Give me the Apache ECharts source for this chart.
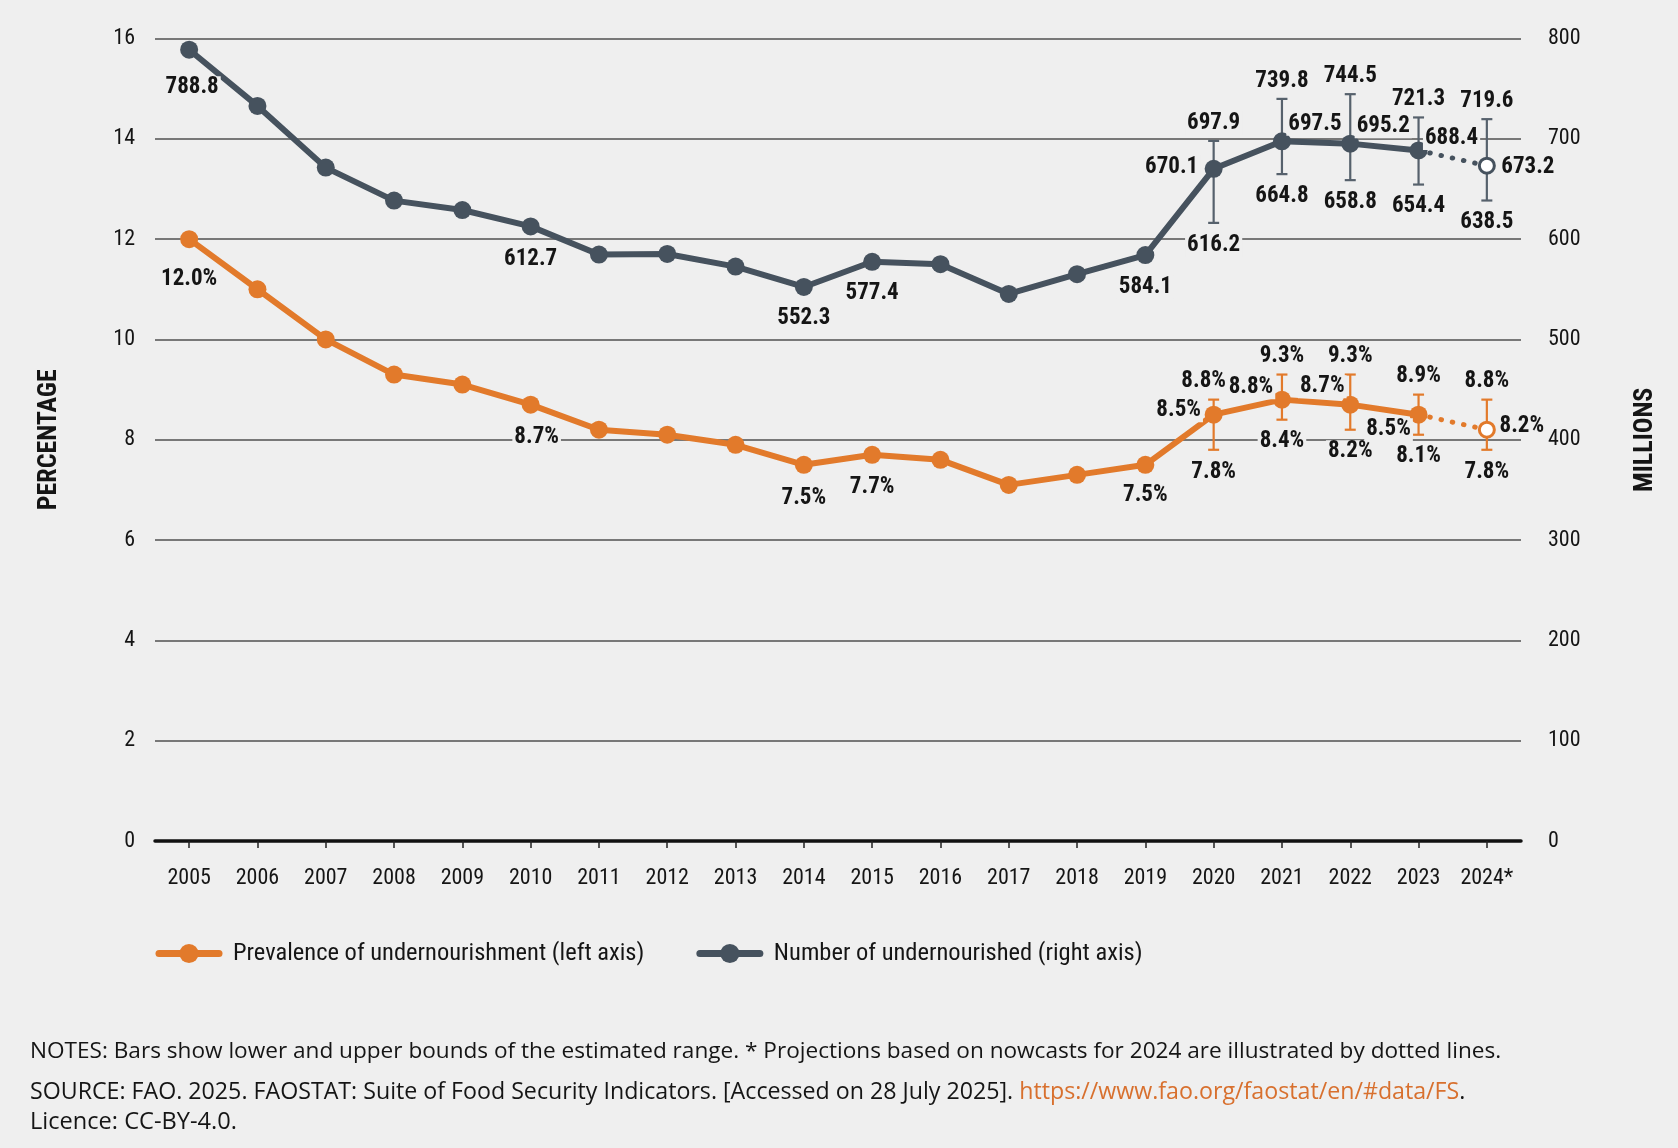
<!DOCTYPE html>
<html>
<head>
<meta charset="utf-8">
<script src="https://cdn.jsdelivr.net/npm/echarts@6/dist/echarts.min.js"></script>
<style>
html,body{margin:0;padding:0;background:#EFEFEF;}
#chart{width:1678px;height:1148px;}
</style>
</head>
<body>
<div id="chart"></div>
<script>
// ---- data ----
const years = ['2005','2006','2007','2008','2009','2010','2011','2012','2013','2014','2015','2016','2017','2018','2019','2020','2021','2022','2023','2024*'];
const prevalence = [12.0, 11.0, 10.0, 9.3, 9.1, 8.7, 8.2, 8.1, 7.9, 7.5, 7.7, 7.6, 7.1, 7.3, 7.5, 8.5, 8.8, 8.7, 8.5, 8.2];
const undernourished = [788.8, 732.8, 671.3, 638.4, 629.0, 612.7, 584.6, 585.2, 572.6, 552.3, 577.4, 575.0, 545.4, 565.0, 584.1, 670.1, 697.5, 695.2, 688.4, 673.2];
const rangeYears = ['2020','2021','2022','2023','2024*'];
const prevalenceLow = [7.8, 8.4, 8.2, 8.1, 7.8];
const prevalenceHigh = [8.8, 9.3, 9.3, 8.9, 8.8];
const numberLow = [616.2, 664.8, 658.8, 654.4, 638.5];
const numberHigh = [697.9, 739.8, 744.5, 721.3, 719.6];
const leftAxis = {min: 0, max: 16, interval: 2};
const rightAxis = {min: 0, max: 800, interval: 100};
const seriesNames = ['Prevalence of undernourishment (left axis)', 'Number of undernourished (right axis)'];
const notesText = 'NOTES: Bars show lower and upper bounds of the estimated range. * Projections based on nowcasts for 2024 are illustrated by dotted lines.';
const sourceText = 'SOURCE: FAO. 2025. FAOSTAT: Suite of Food Security Indicators. [Accessed on 28 July 2025]. ';
const sourceUrl = 'https://www.fao.org/faostat/en/#data/FS';
const licenceText = 'Licence: CC-BY-4.0.';

// ---- styles ----
const ORANGE = '#E27A2B';
const SLATE = '#46525E';
const BG = '#EFEFEF';
const TXT = '#151515';
const NARROW = '"Roboto Condensed", "Open Sans Condensed", sans-serif';
const NOTE_FAMILY = '"Open Sans", Lato, sans-serif';
const LABEL_SIZE = 23;

// label offsets (px) relative to the marker centre, keyed by category index
const prevLabelOffsets = {0:[0,40], 5:[6,33], 9:[0,33], 10:[0,32], 14:[0,30], 15:[-35,-4], 16:[-31,-12], 17:[-28,-18], 18:[-30,15], 19:[35,-3]};
const numLabelOffsets  = {0:[3,38], 5:[0,33], 9:[0,31], 10:[0,31], 14:[0,32], 15:[-42,-2], 16:[33,-17], 17:[33,-17], 18:[33,-12], 19:[41,2]};
const prevUpperDx = [-10, 0, 0, 0, 0];

function labelStyle(offset, suffix) {
  return {
    show: true, position: 'inside', offset: offset,
    formatter: p => Number(p.value).toFixed(1) + suffix,
    fontFamily: NARROW, fontWeight: 'bold', fontSize: LABEL_SIZE, color: TXT,
    backgroundColor: BG, padding: [0, 2]
  };
}

function solidData(values, offsets, suffix) {
  const last = values.length - 1;
  return values.map((v, i) => {
    if (i === last) return null;
    const item = {value: v};
    if (offsets[i]) item.label = labelStyle(offsets[i], suffix);
    return item;
  });
}
function projData(values, offsets, suffix) {
  const last = values.length - 1;
  return values.map((v, i) => {
    if (i === last) return {value: v, label: labelStyle(offsets[i], suffix)};
    if (i === last - 1) return {value: v, symbol: 'none'};
    return null;
  });
}

function errorSeries(low, high, yIdx, color, suffix, upperDx) {
  return {
    type: 'custom', yAxisIndex: yIdx, z: 1, silent: true,
    data: rangeYears.map((y, i) => [y, low[i], high[i], i]),
    renderItem: function (params, api) {
      const cat = api.value(0);
      const lo = api.coord([cat, api.value(1)]);
      const hi = api.coord([cat, api.value(2)]);
      const k = api.value(3);
      const cap = 5.5;
      const lineSt = {stroke: color, lineWidth: 2.2};
      const font = 'bold ' + LABEL_SIZE + 'px ' + NARROW;
      return {
        type: 'group',
        children: [
          {type: 'line', shape: {x1: hi[0], y1: hi[1], x2: lo[0], y2: lo[1]}, style: lineSt},
          {type: 'line', shape: {x1: hi[0]-cap, y1: hi[1], x2: hi[0]+cap, y2: hi[1]}, style: lineSt},
          {type: 'line', shape: {x1: lo[0]-cap, y1: lo[1], x2: lo[0]+cap, y2: lo[1]}, style: lineSt},
          {type: 'text', x: hi[0] + upperDx[k], y: hi[1] - 18,
            style: {text: api.value(2).toFixed(1) + suffix, font: font, fill: TXT, align: 'center', verticalAlign: 'middle', backgroundColor: BG, padding: [0, 2]}},
          {type: 'text', x: lo[0], y: lo[1] + 22,
            style: {text: api.value(1).toFixed(1) + suffix, font: font, fill: TXT, align: 'center', verticalAlign: 'middle', backgroundColor: BG, padding: [0, 2]}}
        ]
      };
    }
  };
}

function lineSeries(name, values, yIdx, color, offsets, suffix) {
  return [{
    name: name, type: 'line', yAxisIndex: yIdx, z: 3,
    data: solidData(values, offsets, suffix),
    symbol: 'circle', symbolSize: 18,
    lineStyle: {color: color, width: 6},
    itemStyle: {color: color},
    label: {show: false},
    emphasis: {disabled: true},
    connectNulls: false
  }, {
    name: name + ' projection', type: 'line', yAxisIndex: yIdx, z: 3,
    data: projData(values, offsets, suffix),
    symbol: 'circle', symbolSize: 15,
    lineStyle: {color: color, width: 5, type: [0.5, 11], cap: 'round'},
    itemStyle: {color: '#FFFFFF', borderColor: color, borderWidth: 3},
    label: {show: false},
    emphasis: {disabled: true}
  }];
}

const chart = echarts.init(document.getElementById('chart'), null, {renderer: 'canvas'});
const option = {
  backgroundColor: BG,
  animation: false,
  grid: {left: 155, right: 157, top: 38.5, bottom: 307, containLabel: false},
  xAxis: {
    type: 'category', data: years, boundaryGap: true,
    axisLine: {lineStyle: {color: '#111', width: 3.5}},
    axisTick: {show: true, alignWithLabel: true, interval: 0, length: 7, lineStyle: {color: '#222', width: 1.5}},
    axisLabel: {interval: 0, fontFamily: NARROW, fontSize: 22, color: TXT, margin: 26}
  },
  yAxis: [{
    type: 'value', min: leftAxis.min, max: leftAxis.max, interval: leftAxis.interval,
    name: 'PERCENTAGE', nameLocation: 'middle', nameRotate: 90, nameGap: 93,
    nameTextStyle: {fontFamily: NARROW, fontWeight: 'bold', fontSize: 26, color: TXT},
    axisLine: {show: false}, axisTick: {show: false},
    axisLabel: {fontFamily: NARROW, fontSize: 22, color: TXT, margin: 20},
    splitLine: {lineStyle: {color: '#505050', width: 1.5}}
  }, {
    type: 'value', min: rightAxis.min, max: rightAxis.max, interval: rightAxis.interval,
    name: 'MILLIONS', nameLocation: 'middle', nameRotate: 90, nameGap: 111,
    nameTextStyle: {fontFamily: NARROW, fontWeight: 'bold', fontSize: 26, color: TXT},
    axisLine: {show: false}, axisTick: {show: false},
    axisLabel: {fontFamily: NARROW, fontSize: 22, color: TXT, margin: 27},
    splitLine: {show: false}
  }],
  legend: {
    data: seriesNames, left: 155.5, top: 941, padding: 0,
    itemWidth: 60, itemHeight: 24, itemGap: 52,
    lineStyle: {width: 7, cap: 'round'},
    textStyle: {fontFamily: NARROW, fontSize: 24.5, color: TXT, padding: [0, 0, 0, 9]},
    selectedMode: false
  },
  graphic: [
    {type: 'text', x: 30, y: 1052, silent: true,
      style: {text: notesText, font: '22.6px ' + NOTE_FAMILY, fill: TXT, verticalAlign: 'middle'}},
    {type: 'text', x: 30, y: 1092, silent: true,
      style: {text: sourceText + '{u|' + sourceUrl + '}.', font: '23.2px ' + NOTE_FAMILY, fill: TXT, verticalAlign: 'middle',
        rich: {u: {fill: '#D8702E', fontFamily: NOTE_FAMILY, fontSize: 23.2}}}},
    {type: 'text', x: 30, y: 1122, silent: true,
      style: {text: licenceText, font: '23.6px ' + NOTE_FAMILY, fill: TXT, verticalAlign: 'middle'}}
  ],
  series: [
    errorSeries(prevalenceLow, prevalenceHigh, 0, ORANGE, '%', prevUpperDx),
    errorSeries(numberLow, numberHigh, 1, '#56616C', '', [0,0,0,0,0]),
    ...lineSeries(seriesNames[0], prevalence, 0, ORANGE, prevLabelOffsets, '%'),
    ...lineSeries(seriesNames[1], undernourished, 1, SLATE, numLabelOffsets, '')
  ]
};
chart.setOption(option);
</script>
</body>
</html>
